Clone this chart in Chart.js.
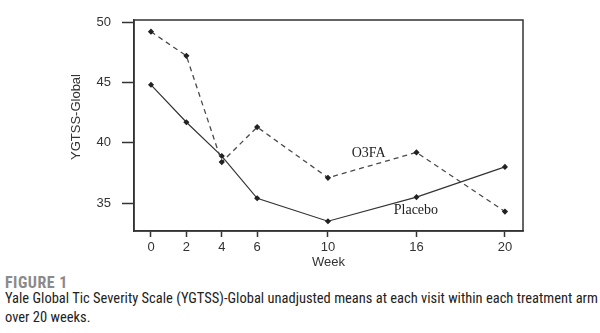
<!DOCTYPE html>
<html>
<head>
<meta charset="utf-8">
<script src="https://cdn.jsdelivr.net/npm/chart.js@4"></script>
<style>
  body { margin: 0; background: #fff; width: 600px; height: 333px; position: relative; overflow: hidden; }
  #chart { position: absolute; left: 0; top: 0; }
  .cap { position: absolute; left: 5px; font-family: "Liberation Sans Narrow", "Roboto Condensed", "Arial Narrow", sans-serif; white-space: nowrap; }
  #fig { top: 273px; font-size: 16px; font-weight: bold; color: #8a8a8a; letter-spacing: 0.5px; }
  #txt { top: 289px; font-size: 14.5px; color: #222; line-height: 19px; }
</style>
</head>
<body>
<canvas id="chart" width="600" height="270"></canvas>
<div class="cap" id="fig">FIGURE 1</div>
<div class="cap" id="txt">Yale Global Tic Severity Scale (YGTSS)-Global unadjusted means at each visit within each treatment arm<br>over 20 weeks.</div>
<script>
// semanas de visita y su posicion en el eje tal como aparece en la figura
const semanas = ['0', '2', '4', '6', '10', '16', '20'];
const posicion = [0, 2, 4, 6, 10, 15, 20];
const o3fa = [49.2, 47.2, 38.4, 41.3, 37.1, 39.2, 34.3];
const placebo = [44.8, 41.7, 38.9, 35.4, 33.5, 35.5, 38.0];
const ticksY = [35, 40, 45, 50];

// etiquetas de cada serie dentro del grafico
const etiquetas = [
  { texto: 'O3FA', x: 12.3, y: 39.15 },
  { texto: 'Placebo', x: 14.97, y: 34.4 }
];

const puntos = arr => arr.map((v, i) => ({ x: posicion[i], y: v }));

const marco = {
  id: 'marco',
  afterDraw(chart) {
    const { ctx, chartArea: a, scales } = chart;
    ctx.save();
    ctx.strokeStyle = '#333';
    ctx.lineWidth = 1.5;
    ctx.strokeRect(a.left, a.top, a.right - a.left, a.bottom - a.top);

    ctx.fillStyle = '#222';
    ctx.font = '14px "Liberation Serif", serif';
    ctx.textAlign = 'center';
    ctx.textBaseline = 'middle';
    etiquetas.forEach(e => {
      ctx.fillText(e.texto, scales.x.getPixelForValue(e.x), scales.y.getPixelForValue(e.y));
    });

    // titulo del eje Y
    ctx.font = '13px "Liberation Sans", Arial, sans-serif';
    ctx.fillStyle = '#333';
    ctx.translate(76, 117);
    ctx.rotate(-Math.PI / 2);
    ctx.fillText('YGTSS-Global', 0, 0);
    ctx.restore();
  }
};

let myChart = new Chart(document.getElementById('chart').getContext('2d'), {
  type: 'line',
  data: {
    datasets: [{
      label: 'O3FA',
      data: puntos(o3fa),
      borderColor: '#4a4a4a',
      borderWidth: 1.3,
      borderDash: [5, 4],
      pointStyle: 'rectRot',
      pointRadius: 2.2,
      pointBackgroundColor: '#222',
      pointBorderColor: '#222',
      tension: 0
    }, {
      label: 'Placebo',
      data: puntos(placebo),
      borderColor: '#333',
      borderWidth: 1.2,
      pointStyle: 'rectRot',
      pointRadius: 2.2,
      pointBackgroundColor: '#222',
      pointBorderColor: '#222',
      tension: 0
    }]
  },
  options: {
    responsive: false,
    animation: false,
    layout: { padding: { top: 20, right: 77, left: 0, bottom: 0 } },
    plugins: { legend: { display: false }, tooltip: { enabled: false } },
    scales: {
      x: {
        type: 'linear',
        min: -0.96,
        max: 21.02,
        afterBuildTicks: s => { s.ticks = posicion.map(v => ({ value: v })); },
        afterFit: s => { s.height = 39; },
        grid: { drawOnChartArea: false, drawTicks: true, tickLength: 6, tickColor: '#333', tickWidth: 1.5 },
        border: { display: true, color: '#333', width: 1.5 },
        ticks: {
          color: '#333',
          padding: 3,
          maxRotation: 0,
          font: { family: '"Liberation Sans", Arial, sans-serif', size: 13 },
          callback: v => semanas[posicion.indexOf(v)]
        },
        title: {
          display: true,
          text: 'Week',
          color: '#333',
          padding: 0,
          font: { family: '"Liberation Sans", Arial, sans-serif', size: 13 }
        }
      },
      y: {
        min: 32.69,
        max: 50.17,
        afterBuildTicks: s => { s.ticks = ticksY.map(v => ({ value: v })); },
        afterFit: s => { s.width = 134; },
        grid: { drawOnChartArea: false, drawTicks: true, tickLength: 12, tickColor: '#333', tickWidth: 1.5 },
        border: { display: true, color: '#333', width: 1.5 },
        ticks: {
          color: '#333',
          padding: 11,
          font: { family: '"Liberation Sans", Arial, sans-serif', size: 13 }
        }
      }
    }
  },
  plugins: [marco]
});
</script>
</body>
</html>
